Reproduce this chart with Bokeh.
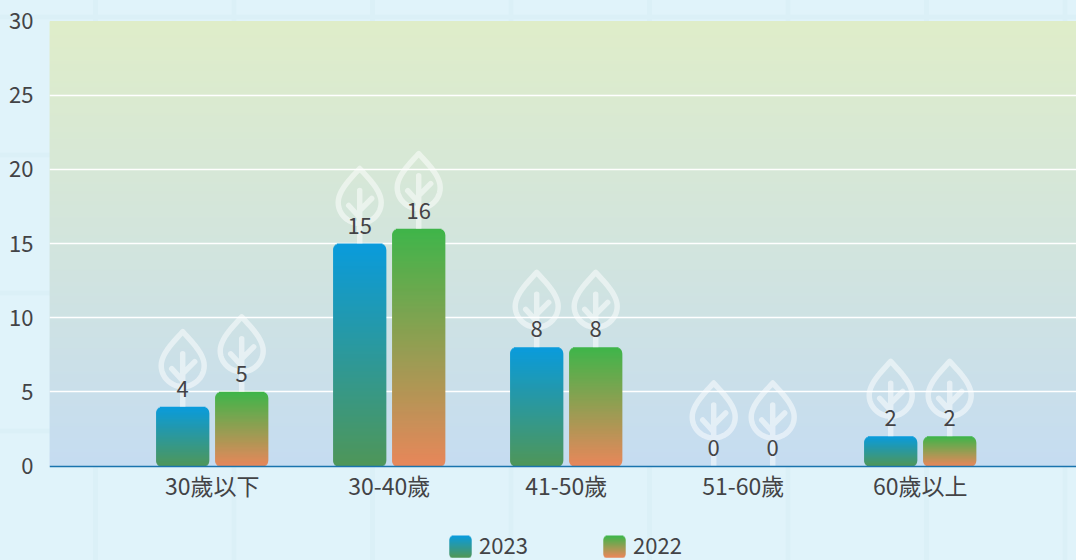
import numpy as np
from bokeh.plotting import figure
from bokeh.embed import file_html
from bokeh.resources import INLINE
from bokeh.core.properties import value
from bokeh.models import FixedTicker, Range1d, Legend, LegendItem

categories = ["30歲以下", "30-40歲", "41-50歲", "51-60歲", "60歲以上"]
years = ["2023", "2022"]
values_2023 = [4, 15, 8, 0, 2]
values_2022 = [5, 16, 8, 0, 2]
y_ticks = [0, 5, 10, 15, 20, 25, 30]

W, H = 1076, 560
LEFT, TOP, Y_TOP, BASE_Y = 49, 20, 20.5, 465.5
FONT = "'Noto Sans CJK TC', sans-serif"
TXT = "#434346"
UNIT_PX = 177.0
BAR_PX = 53.0
OFFSET = 29.5 / UNIT_PX
PX_X = 1 / UNIT_PX
PX_Y = 30 / (BASE_Y - Y_TOP)
x_min = -(211.7 - LEFT) / UNIT_PX
x_max = x_min + (W - LEFT) / UNIT_PX
y_max = 30 + (Y_TOP - TOP) * PX_Y
y_min = -(H - BASE_Y) * PX_Y


def hex_rgb(c):
    return np.array([int(c[i:i + 2], 16) for i in (1, 3, 5)], dtype=float)


def mix(c1, c2, t):
    v = hex_rgb(c1) * (1 - t) + hex_rgb(c2) * t
    return "#%02x%02x%02x" % tuple(int(round(a)) for a in v)


p = figure(width=W, height=H, output_backend="svg", toolbar_location=None,
           x_range=Range1d(x_min, x_max), y_range=Range1d(y_min, y_max),
           min_border_left=LEFT, min_border_right=0, min_border_top=TOP, min_border_bottom=0,
           background_fill_alpha=0, border_fill_alpha=0, outline_line_color=None)

# plot-area vertical gradient
n_rows = int(BASE_Y - Y_TOP)
tops = [30 - i * PX_Y for i in range(n_rows)]
p.quad(left=x_min, right=x_max, top=tops, bottom=[max(t - 2 * PX_Y, 0) for t in tops],
       fill_color=[mix("#dfedc9", "#c5dcf1", i / (n_rows - 1)) for i in range(n_rows)],
       line_color=None, level="image")


def bar(cx, v, c_top, c_bot, base=0.0, width_px=BAR_PX, radius=6.0):
    """1px rows of a rounded bar, painted from the top down."""
    h_px = (v - base) / PX_Y
    rows = int(np.ceil(h_px))
    l, r, t, b, col = [], [], [], [], []
    for j in range(rows):
        d = min(j + 0.5, h_px - j - 0.5)
        inset = radius - np.sqrt(max(radius ** 2 - (radius - d) ** 2, 0)) if d < radius else 0.0
        l.append(cx - (width_px / 2 - inset) * PX_X)
        r.append(cx + (width_px / 2 - inset) * PX_X)
        t.append(v - j * PX_Y)
        b.append(max(v - (j + 2) * PX_Y, base))
        col.append(mix(c_top, c_bot, j / max(rows - 1, 1)))
    return dict(left=l, right=r, top=t, bottom=b, fill_color=col)


def cubic(p0, p1, p2, p3, n=14):
    s = np.linspace(0, 1, n)[:, None]
    a = [np.array(q, dtype=float) for q in (p0, p1, p2, p3)]
    return (1 - s) ** 3 * a[0] + 3 * (1 - s) ** 2 * s * a[1] + 3 * (1 - s) * s ** 2 * a[2] + s ** 3 * a[3]


def leaf(cx, v):
    up = 8 if v == 0 else 0
    outline = np.vstack([
        cubic((0, -20), (11.6, -20), (21.5, -29.4), (21.5, -41)),
        cubic((21.5, -41), (21.5, -53), (9, -65), (0, -75)),
        cubic((0, -75), (-9, -65), (-21.5, -53), (-21.5, -41)),
        cubic((-21.5, -41), (-21.5, -29.4), (-11.6, -20), (0, -20)),
    ])
    outline[:, 1] -= up
    inner = np.array([(0, 0), (0, -53 - up), (0, -33 - up), (12, -45 - up), (0, -33 - up),
                      (0, -26 - up), (-11, -38 - up), (0, -26 - up), (0, -20 - up)], dtype=float)
    pts = np.vstack([inner, outline])
    return list(cx + pts[:, 0] * PX_X), list(v + pts[:, 1] * -PX_Y)


series = [(values_2023, -OFFSET, "#0a9bdc", "#4f9659"), (values_2022, OFFSET, "#3fb54a", "#e8875b")]
lx, ly = [], []
tx, ty, tt = [], [], []
for vals, off, c_top, c_bot in series:
    for i, v in enumerate(vals):
        cx = i + off
        a, b = leaf(cx, v)
        lx.append(a)
        ly.append(b)
        tx.append(cx)
        ty.append(v)
        tt.append(str(v))
    for i, v in enumerate(vals):
        if v > 0:
            p.quad(line_color=None, **bar(i + off, v, c_top, c_bot))

p.multi_line(lx, ly, line_color="white", line_alpha=0.5, line_width=5.5, line_join="round")
p.text(tx, ty, text=tt, text_font=value(FONT), text_font_size="22px", text_color=TXT,
       text_align="center", text_baseline="middle", y_offset=-18)

# axes
xa = p.xaxis[0]
xa.fixed_location = 0
xa.ticker = FixedTicker(ticks=list(range(len(categories))))
xa.major_label_overrides = {i: c for i, c in enumerate(categories)}
xa.major_label_text_font = FONT
xa.major_label_text_font_size = "23px"
xa.major_label_text_color = TXT
xa.major_tick_line_color = None
xa.minor_tick_line_color = None
xa.major_tick_out = 0
xa.major_tick_in = 0
xa.minor_tick_out = 0
xa.minor_tick_in = 0
xa.axis_line_color = "#1a74ae"
xa.axis_line_width = 1.5
xa.major_label_standoff = 2
ya = p.yaxis[0]
ya.ticker = FixedTicker(ticks=y_ticks)
ya.major_label_text_font = FONT
ya.major_label_text_font_size = "22px"
ya.major_label_text_color = TXT
ya.major_tick_line_color = None
ya.minor_tick_line_color = None
ya.major_tick_out = 0
ya.major_tick_in = 0
ya.minor_tick_out = 0
ya.minor_tick_in = 0
ya.axis_line_color = None
ya.major_label_standoff = 16

p.xgrid.visible = False
p.ygrid.ticker = FixedTicker(ticks=[t for t in y_ticks if 0 < t < 30])
p.ygrid.grid_line_color = "white"
p.ygrid.grid_line_width = 1.5

# legend: real entries with transparent keys; the gradient swatches sit beneath them
SW_LEFT, SW_STEP, SW_SIZE, SW_BOTTOM = 449, 154, 22, 557
key_refs = []
for k, (vals, off, c_top, c_bot) in enumerate(series):
    cx = x_min + (SW_LEFT + SW_STEP * k + SW_SIZE / 2 - LEFT) * PX_X
    base = (BASE_Y - SW_BOTTOM) * PX_Y
    p.quad(line_color=None,
           **bar(cx, base + SW_SIZE * PX_Y, c_top, c_bot, base=base, width_px=SW_SIZE, radius=4.0))
    key_refs.append(p.quad(left=[cx], right=[cx], top=[base], bottom=[base],
                           fill_alpha=0, line_alpha=0))

legend = Legend(items=[LegendItem(label=value(y), renderers=[r]) for y, r in zip(years, key_refs)],
                orientation="horizontal", location=(SW_LEFT - LEFT, 0),
                glyph_width=SW_SIZE, glyph_height=SW_SIZE, label_standoff=8, spacing=0, label_width=124,
                padding=0, margin=0, border_line_color=None, background_fill_alpha=0,
                label_text_font=FONT, label_text_font_size="22px", label_text_color=TXT,
                label_height=SW_SIZE)
p.add_layout(legend, "center")

html = file_html(p, INLINE)
style = """<style>
html,body{margin:0;overflow:hidden;background-color:#e0f3fa;
background-image:linear-gradient(to right,#dbf0f7 5px,transparent 5px),linear-gradient(to bottom,#dbf0f7 5px,transparent 5px);
background-size:138.5px 138px;background-position:93px 14.5px;}
</style>"""
html = html.replace("</head>", style + "</head>", 1)
open("out.html", "w").write(html)
